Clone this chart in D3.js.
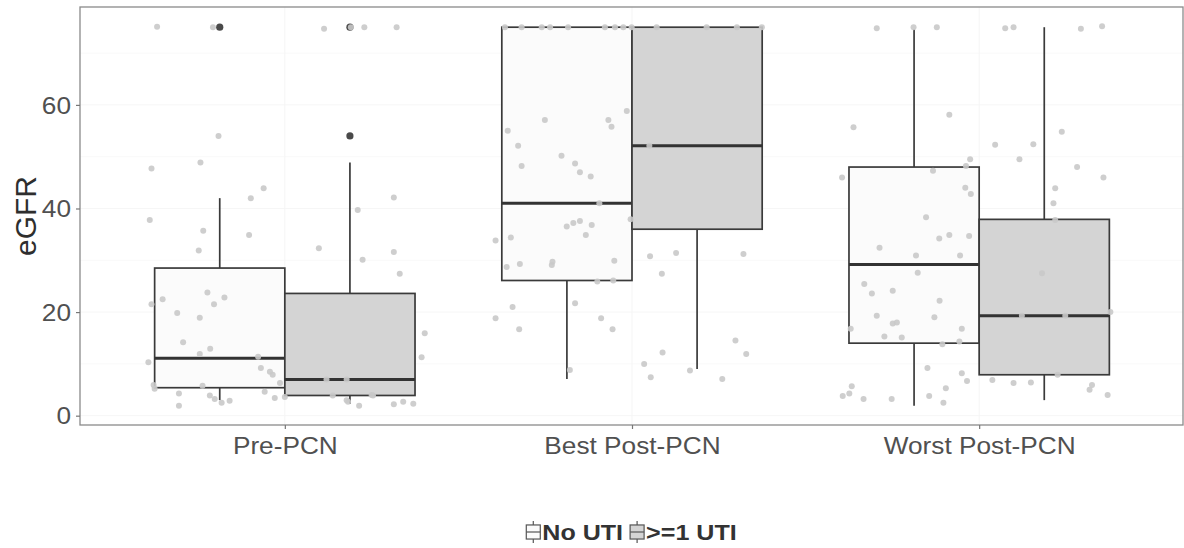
<!DOCTYPE html>
<html>
<head>
<meta charset="utf-8">
<script src="https://cdn.jsdelivr.net/npm/d3@7"></script>
<style>
  html, body { margin: 0; padding: 0; background: #fff; }
  svg { display: block; font-family: "Liberation Sans", Arial, sans-serif; }
</style>
</head>
<body>
<svg id="chart" width="1184" height="548"></svg>
<script>
// ---- data ----
const categories = ["Pre-PCN", "Best Post-PCN", "Worst Post-PCN"];
const groups = ["No UTI", ">=1 UTI"];
const yTicks = [0, 20, 40, 60];
const yTitle = "eGFR";

// box statistics per category: [lower whisker, Q1, median, Q3, upper whisker]
const boxNoUti = [
  [3.0, 5.4, 11.1, 28.5, 42.0],
  [7.1, 26.1, 41.0, 75.0, 75.0],
  [1.9, 14.0, 29.2, 48.0, 74.6]
];
const boxUti = [
  [2.3, 3.9, 7.0, 23.6, 48.9],
  [9.0, 36.0, 52.1, 75.0, 75.0],
  [3.0, 7.9, 19.3, 37.9, 75.0]
];
// outliers per category
const outNoUti = [[75], [], []];
const outUti = [[54, 75], [], []];

// jittered observations: [horizontal offset in category steps, eGFR]
const jitterPre = [
  [-0.368, 75.1], [-0.207, 75], [0.113, 74.7], [0.190, 75], [0.229, 75], [0.322, 75],
  [-0.191, 54], [-0.384, 47.7], [-0.243, 48.9], [-0.098, 42], [-0.061, 43.9], [0.314, 42.1],
  [0.210, 39.7], [-0.389, 37.8], [-0.235, 35.7], [-0.103, 34.9], [-0.248, 31.9], [0.098, 32.3],
  [0.224, 30.1], [0.314, 31.6], [0.331, 27.4], [-0.352, 22.5], [-0.384, 21.5], [-0.223, 23.8],
  [-0.174, 22.8], [-0.204, 21.5], [-0.310, 19.8], [-0.245, 18.9], [-0.293, 14.2], [-0.215, 12.9],
  [-0.245, 11.9], [-0.393, 10.3], [-0.077, 11.4], [-0.069, 9.2], [-0.043, 8.5], [-0.035, 7.9],
  [-0.014, 6.3], [-0.378, 5.9], [-0.375, 5.2], [-0.237, 5.8], [-0.305, 4.3], [-0.305, 1.9],
  [-0.216, 3.9], [-0.202, 3.2], [-0.182, 2.5], [-0.159, 2.9], [-0.058, 4.6], [-0.029, 3.4],
  [0.0, 3.6], [0.403, 15.9], [0.394, 11.3], [0.182, 2.7], [0.214, 1.9], [0.314, 2.2],
  [0.341, 2.7], [0.370, 2.3], [0.250, 4.0], [0.178, 3.0], [0.120, 7.0], [0.178, 7.0],
  [0.138, 3.9], [0.254, 3.9]
];
const jitterBest = [
  [-0.366, 75], [-0.318, 75], [-0.260, 75], [-0.236, 75], [-0.184, 75], [-0.078, 75],
  [-0.049, 75], [-0.025, 75], [-0.001, 75], [0.071, 75], [0.215, 75], [0.302, 75], [0.374, 75],
  [-0.358, 55.0], [-0.251, 57.1], [-0.068, 57.1], [-0.059, 55.8], [-0.015, 58.8], [-0.328, 52.1],
  [-0.318, 48.2], [-0.203, 50.2], [-0.164, 48.7], [-0.150, 47.0], [-0.119, 46.2], [-0.094, 41.0],
  [0.050, 52.1], [-0.188, 36.5], [-0.169, 37.2], [-0.150, 37.6], [-0.116, 36.8], [-0.133, 34.9],
  [-0.004, 37.9], [-0.393, 33.8], [-0.349, 34.4], [-0.361, 28.7], [-0.323, 29.3], [-0.231, 29.1],
  [-0.229, 29.7], [-0.051, 29.9], [-0.100, 25.9], [-0.054, 26.1], [-0.164, 21.7], [-0.344, 21.0],
  [-0.393, 18.8], [-0.325, 16.7], [-0.089, 18.8], [-0.056, 16.7], [-0.179, 8.8], [0.052, 30.8],
  [0.127, 31.4], [0.321, 31.2], [0.086, 27.4], [0.298, 14.5], [0.329, 11.9], [0.088, 12.2],
  [0.035, 10.0], [0.054, 7.4], [0.167, 8.7], [0.260, 7.1]
];
const jitterWorst = [
  [-0.295, 74.8], [-0.189, 75], [-0.122, 75], [0.075, 74.8], [0.099, 75], [0.293, 74.7], [0.354, 75.2],
  [-0.362, 55.7], [-0.086, 58.1], [0.238, 54.8], [0.046, 52.3], [0.156, 52.4], [-0.026, 49.5],
  [-0.038, 48.2], [0.116, 49.5], [0.282, 48.0], [0.358, 46.0], [-0.395, 46.0], [-0.133, 47.3],
  [-0.040, 44.0], [-0.024, 42.8], [0.219, 43.9], [0.214, 41.0], [-0.153, 38.3], [-0.287, 32.4],
  [-0.115, 34.2], [-0.086, 34.9], [-0.029, 34.7], [-0.182, 30.9], [-0.055, 30.9], [-0.177, 27.6],
  [-0.331, 25.4], [-0.309, 23.6], [-0.249, 24.1], [-0.114, 22.2], [-0.295, 19.3], [-0.129, 19.0],
  [-0.249, 17.8], [-0.237, 18.0], [-0.370, 16.8], [-0.050, 16.8], [-0.273, 15.3], [-0.223, 15.1],
  [-0.106, 13.8], [-0.057, 14.3], [-0.149, 9.2], [-0.050, 8.2], [-0.035, 6.7], [-0.096, 5.3],
  [-0.367, 5.7], [-0.393, 3.8], [-0.374, 4.3], [-0.333, 3.2], [-0.252, 3.2], [-0.144, 3.8],
  [-0.103, 2.5], [0.038, 6.9], [0.099, 6.3], [0.149, 6.4], [0.325, 5.9], [0.318, 5.0],
  [0.370, 4.0], [0.181, 27.5], [0.378, 20.0], [0.226, 7.9], [0.219, 37.8], [0.123, 19.3],
  [0.248, 19.3]
];
const jitterAll = [jitterPre, jitterBest, jitterWorst];

// ---- layout ----
const panel = { left: 80, right: 1183, top: 7, bottom: 425 };
const groupFill = ["#fbfbfb", "#d4d4d4"];
const boxStroke = "#3a3a3a";
const textStretch = 1.14;

const svg = d3.select("#chart");

const x = d3.scalePoint()
  .domain(categories)
  .range([panel.left, panel.right + 1])
  .padding(0.59);
const step = x.step();
const boxWidth = step * 0.375;
const dodge = d3.scaleBand().domain(groups).range([-boxWidth, boxWidth]);

const y = d3.scaleLinear().domain([-1.8, 78.9]).range([panel.bottom, panel.top]);

function stretch(sel, k) {
  sel.each(function () {
    const w = this.getComputedTextLength();
    d3.select(this).attr("textLength", w * k).attr("lengthAdjust", "spacingAndGlyphs");
  });
}

// grid lines (very faint)
const grid = svg.append("g");
const minorTicks = [10, 30, 50, 70];
grid.selectAll("line.minor").data(minorTicks).join("line")
  .attr("x1", panel.left).attr("x2", panel.right)
  .attr("y1", d => y(d)).attr("y2", d => y(d))
  .attr("stroke", "#f9f9f9").attr("stroke-width", 1);
grid.selectAll("line.major").data(yTicks).join("line")
  .attr("x1", panel.left).attr("x2", panel.right)
  .attr("y1", d => y(d)).attr("y2", d => y(d))
  .attr("stroke", "#f6f6f6").attr("stroke-width", 1);
grid.selectAll("line.vert").data(categories).join("line")
  .attr("x1", d => x(d)).attr("x2", d => x(d))
  .attr("y1", panel.top).attr("y2", panel.bottom)
  .attr("stroke", "#f5f5f5").attr("stroke-width", 1);

// boxplots
const boxSets = [boxNoUti, boxUti];
const outSets = [outNoUti, outUti];
const boxes = svg.append("g");
groups.forEach((g, gi) => {
  categories.forEach((c, ci) => {
    const [lo, q1, med, q3, hi] = boxSets[gi][ci];
    const x0 = x(c) + dodge(g);
    const xm = x0 + dodge.bandwidth() / 2;
    const bg = boxes.append("g");
    bg.append("line")
      .attr("x1", xm).attr("x2", xm).attr("y1", y(q3)).attr("y2", y(hi))
      .attr("stroke", boxStroke).attr("stroke-width", 1.7);
    bg.append("line")
      .attr("x1", xm).attr("x2", xm).attr("y1", y(q1)).attr("y2", y(lo))
      .attr("stroke", boxStroke).attr("stroke-width", 1.7);
    bg.append("rect")
      .attr("x", x0).attr("width", dodge.bandwidth())
      .attr("y", y(q3)).attr("height", y(q1) - y(q3))
      .attr("fill", groupFill[gi]).attr("stroke", boxStroke).attr("stroke-width", 1.7);
    bg.append("line")
      .attr("x1", x0).attr("x2", x0 + dodge.bandwidth())
      .attr("y1", y(med)).attr("y2", y(med))
      .attr("stroke", "#333").attr("stroke-width", 3);
    bg.selectAll("circle").data(outSets[gi][ci]).join("circle")
      .attr("cx", xm).attr("cy", d => y(d)).attr("r", 3.6)
      .attr("fill", "#4a4a4a");
  });
});

// jittered points
const pts = svg.append("g");
categories.forEach((c, ci) => {
  pts.selectAll(null).data(jitterAll[ci]).join("circle")
    .attr("cx", d => x(c) + d[0] * step)
    .attr("cy", d => y(d[1]))
    .attr("r", 3)
    .attr("fill", "#c9c9c9")
    .attr("fill-opacity", 0.9);
});

// panel border
svg.append("rect")
  .attr("x", panel.left).attr("y", panel.top)
  .attr("width", panel.right - panel.left).attr("height", panel.bottom - panel.top)
  .attr("fill", "none").attr("stroke", "#8a8a8a").attr("stroke-width", 1.3);

// y axis
const yAxis = svg.append("g")
  .attr("transform", `translate(${panel.left},0)`)
  .call(d3.axisLeft(y).tickValues(yTicks).tickSize(4).tickPadding(5).tickFormat(d3.format("d")));
yAxis.select(".domain").remove();
yAxis.selectAll(".tick line").attr("stroke", "#777").attr("stroke-width", 1.2);
yAxis.selectAll(".tick text")
  .attr("fill", "#505050").attr("font-size", 23).attr("dy", "0.36em")
  .call(stretch, textStretch);

// x axis
const xAxis = svg.append("g")
  .attr("transform", `translate(0,${panel.bottom})`)
  .call(d3.axisBottom(x).tickSize(4).tickPadding(9));
xAxis.select(".domain").remove();
xAxis.selectAll(".tick line").attr("stroke", "#777").attr("stroke-width", 1.2);
xAxis.selectAll(".tick text")
  .attr("fill", "#505050").attr("font-size", 23)
  .call(stretch, textStretch);

// y title
svg.append("text")
  .attr("transform", `translate(36,${(panel.top + panel.bottom) / 2}) rotate(-90)`)
  .attr("text-anchor", "middle")
  .attr("fill", "#2e2e2e").attr("font-size", 30)
  .text(yTitle);

// legend
const legend = svg.append("g");
const keyW = 14, keyH = 22, legendY = 532;
const items = legend.selectAll("g").data(groups).join("g");
items.each(function (g, i) {
  const it = d3.select(this);
  it.append("line")
    .attr("x1", keyW / 2).attr("x2", keyW / 2)
    .attr("y1", -keyH / 2).attr("y2", keyH / 2)
    .attr("stroke", "#555").attr("stroke-width", 1.2);
  it.append("rect")
    .attr("x", 0).attr("y", -keyH * 0.32).attr("width", keyW).attr("height", keyH * 0.64)
    .attr("fill", i === 0 ? "#fbfbfb" : "#d4d4d4")
    .attr("stroke", "#555").attr("stroke-width", 1.2);
  it.append("line")
    .attr("x1", 0).attr("x2", keyW).attr("y1", 0).attr("y2", 0)
    .attr("stroke", "#555").attr("stroke-width", 1.2);
  it.append("text")
    .attr("x", keyW + 2).attr("y", 0).attr("dy", "0.36em")
    .attr("font-size", 22).attr("font-weight", "bold").attr("fill", "#333")
    .text(g)
    .call(stretch, textStretch);
});
// lay out legend items side by side, centred on the panel
const widths = [];
items.each(function () { widths.push(this.getBBox().width); });
const gap = 7;
const total = d3.sum(widths) + gap * (widths.length - 1);
let cursor = (panel.left + panel.right) / 2 - total / 2;
items.each(function (g, i) {
  d3.select(this).attr("transform", `translate(${cursor},${legendY})`);
  cursor += widths[i] + gap;
});
</script>
</body>
</html>
